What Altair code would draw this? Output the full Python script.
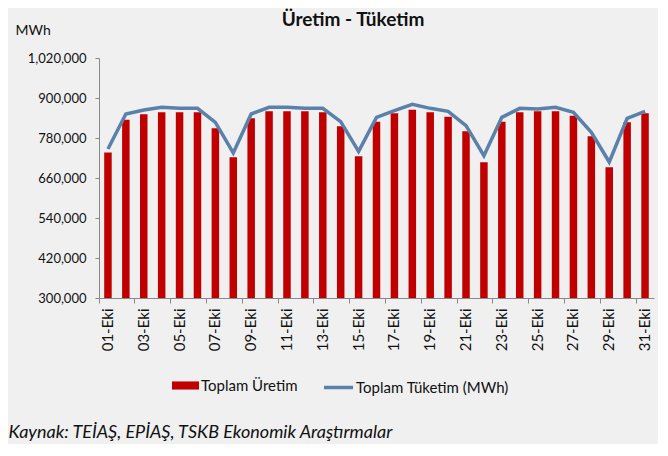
import altair as alt
import pandas as pd

days = [f"{d:02d}-Eki" for d in range(1, 32)]
uretim = [736800, 835000, 851000, 857000, 857000, 857000, 809000, 722000,
          839000, 860000, 860000, 860000, 857000, 815000, 725000, 829000,
          854000, 865000, 857000, 844000, 800000, 707000, 829000, 857000,
          860000, 860000, 847000, 785000, 692000, 827000, 854000]
tuketim = [747000, 852000, 864000, 872000, 869000, 869000, 827000, 735000,
           852000, 872000, 872000, 869000, 869000, 829000, 740000, 842000,
           862000, 881000, 869000, 860000, 817000, 727000, 842000, 869000,
           867000, 872000, 857000, 797000, 708000, 839000, 860000]
y_ticks = [300000, 420000, 540000, 660000, 780000, 900000, 1020000]
label_days = days[::2]
title_text = ["Üretim - Tüketim"]

df = pd.DataFrame({"gun": days, "uretim": uretim, "tuketim": tuketim,
                   "s1": "Toplam Üretim", "s2": "Toplam Tüketim (MWh)"})

FONT = "Lato"
RED = "#c00000"
BLUE = "#5a81aa"
TXT = "#111111"

x_axis = alt.Axis(values=label_days, labelAngle=-90, bandPosition=0,
                  labelFontSize=15, labelFont=FONT, labelColor=TXT,
                  tickSize=5, tickColor="#888", domainColor="#888",
                  labelPadding=5, labelOverlap=False,
                  title="Kaynak: TEİAŞ, EPİAŞ, TSKB Ekonomik Araştırmalar",
                  titleFont=FONT, titleFontSize=18, titleFontStyle="italic",
                  titleFontWeight="normal", titleColor=TXT,
                  titleAngle=0, titleAlign="left", titleBaseline="middle",
                  titleX=-91, titleY=134)
x_scale = alt.Scale(paddingInner=0, paddingOuter=0)

y_scale = alt.Scale(domain=[300000, 1020000], zero=False)
y_axis = alt.Axis(values=y_ticks, format=",.0f", labelFontSize=13, labelFont=FONT,
                  labelColor=TXT, tickSize=4, tickColor="#888", labelOverlap=False,
                  domainColor="#888", labelPadding=9, grid=False,
                  title="MWh", titleFont=FONT, titleFontSize=14,
                  titleFontWeight="normal", titleColor=TXT, titleAngle=0,
                  titleAlign="left", titleBaseline="bottom", titleX=-84, titleY=-21)

bars = alt.Chart(df).mark_bar(size=7.5).encode(
    x=alt.X("gun:N", sort=days, scale=x_scale, axis=x_axis),
    y=alt.Y("uretim:Q", scale=y_scale, axis=y_axis),
    y2=alt.datum(300000),
    fill=alt.Fill("s1:N", scale=alt.Scale(domain=["Toplam Üretim"], range=[RED]),
                  legend=alt.Legend(title=None, orient="none", legendX=73, legendY=314,
                                    symbolType="M-1,-0.3H1V0.3H-1Z", symbolSize=729,
                                    symbolStrokeWidth=0, labelFont=FONT,
                                    labelFontSize=15, labelColor=TXT, labelOffset=2,
                                    padding=0)),
)

line = alt.Chart(df).mark_line(strokeWidth=3.5).encode(
    x=alt.X("gun:N", sort=days, scale=x_scale, axis=x_axis),
    y=alt.Y("tuketim:Q", scale=y_scale, axis=y_axis),
    stroke=alt.Stroke("s2:N", scale=alt.Scale(domain=["Toplam Tüketim (MWh)"], range=[BLUE]),
                      legend=alt.Legend(title=None, orient="none", legendX=223, legendY=313,
                                        symbolType="stroke", symbolSize=841,
                                        symbolStrokeWidth=3.5, labelFont=FONT,
                                        labelFontSize=15, labelColor=TXT,
                                        labelOffset=1, padding=0)),
)

title = alt.Chart(pd.DataFrame({"t": title_text})).mark_text(
    font=FONT, fontSize=19, fontWeight="bold", color=TXT, align="center", baseline="middle"
).encode(text="t:N", x=alt.value(254), y=alt.value(-38))

chart = alt.layer(bars, line, title).resolve_scale(fill="independent", stroke="independent").properties(
    width=555, height=240,
    autosize=alt.AutoSizeParams(type="none"),
    padding={"left": 91, "top": 50, "right": 4, "bottom": 146},
).configure(background="#f0f0f0").configure_view(stroke=None)

chart.save("out.html", embed_options={"renderer": "svg", "actions": False})
